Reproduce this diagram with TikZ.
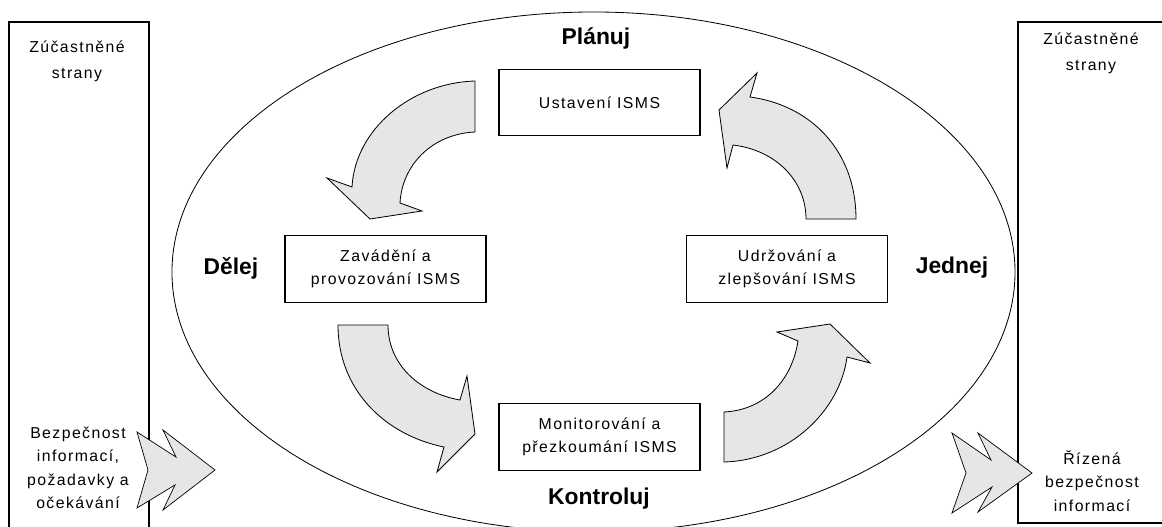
\documentclass[tikz,border=0pt]{standalone}
\usepackage{fontspec}
\usetikzlibrary{shapes.geometric}
\setmainfont{Liberation Sans}
\newfontfamily\regf[LetterSpace=9]{Liberation Sans}
\definecolor{arrowgray}{RGB}{230,230,230}
\begin{document}
\begin{tikzpicture}[x=0.03cm,y=-0.03cm,
  reg/.style={font={\regf\fontsize{13.5}{20}\selectfont}, align=center, inner sep=0pt},
  regwide/.style={font={\regf\fontsize{13.5}{22}\selectfont}, align=center, inner sep=0pt},
  phase/.style={font={\bfseries\fontsize{19.5}{22}\selectfont}, inner sep=0pt},
  stepbox/.style={draw, line width=1.1pt, minimum width=6.03cm, minimum height=1.99cm, inner sep=0pt},
  sidebox/.style={draw, line width=1.1pt, inner sep=0pt},
  bigarrow/.style={draw, line width=0.7pt, fill=arrowgray, line join=miter},
  chevron/.style={draw, line width=0.6pt, fill=arrowgray, line join=miter}]
\clip (0,0) rectangle (1162,527);
\fill[white] (0,0) rectangle (1162,527);

% side boxes
\node[sidebox, minimum width=4.2cm, minimum height=16.5cm] (leftbox) at (79,297) {};
\node[sidebox, minimum width=4.95cm, minimum height=15.03cm] (rightbox) at (1100.5,272.5) {};

% ellipse
\node[draw, line width=0.7pt, ellipse, minimum width=25.29cm, minimum height=15.6cm, inner sep=0pt] (cycle) at (593.5,272) {};

% process boxes
\node[stepbox] (plan) at (599.5,102.5) {};
\node[reg] at (plan.center) {Ustavení ISMS};
\node[stepbox] (do) at (385.5,269) {};
\node[reg] at (do.center) {Zavádění a\\provozování ISMS};
\node[stepbox] (act) at (787,269) {};
\node[reg] at (act.center) {Udržování a\\zlepšování ISMS};
\node[stepbox] (check) at (599.5,437) {};
\node[reg] at (check.center) {Monitorování a\\přezkoumání ISMS};

% phase labels
\node[phase] (lplan) at (596,38) {Plánuj};
\node[phase] (ldo) at (231,268) {Dělej};
\node[phase] (lact) at (952,268) {Jednej};
\node[phase] (lcheck) at (599,499) {Kontroluj};

% curved arrows
\draw[bigarrow] (475,81) .. controls (410,83) and (355,130) .. (352,187)
  -- (327,178) -- (370,219) -- (422,211) -- (400,203)
  .. controls (402,165) and (432,134) .. (475,132) -- cycle;
\draw[bigarrow] (338,325) -- (388,325)
  .. controls (388,365) and (420,393) .. (460,400)
  -- (467,376) -- (475,434) -- (437,472) -- (444,447)
  .. controls (385,435) and (338,390) .. (338,325) -- cycle;
\draw[bigarrow] (724,412) -- (724,462)
  .. controls (790,460) and (840,410) .. (847,357)
  -- (870,363) -- (830,324) -- (777,332) -- (798,341)
  .. controls (792,380) and (765,410) .. (724,412) -- cycle;
\draw[bigarrow] (806,219) -- (856,219)
  .. controls (856,150) and (810,105) .. (750,97)
  -- (757,73) -- (719,110) -- (727,168) -- (733,145)
  .. controls (775,150) and (806,180) .. (806,219) -- cycle;

% side texts
\node[regwide] (lstake) at (77,61) {Zúčastněné\\strany};
\node[regwide] (rstake) at (1091,53) {Zúčastněné\\strany};
\node[reg] (lin) at (78,468) {Bezpečnost\\informací,\\požadavky a\\očekávání};
\node[reg] (rout) at (1092,481) {Řízená\\bezpečnost\\informací};

% chevrons
\draw[chevron] (137,432) -- (176,457) -- (163,430) -- (215,470) -- (163,510)
  -- (175,485) -- (137,508) -- (148,470) -- cycle;
\draw[chevron] (952,433) -- (991,460) -- (978,433) -- (1032,473) -- (978,512)
  -- (992,487) -- (952,513) -- (966,473) -- cycle;
\end{tikzpicture}
\end{document}
